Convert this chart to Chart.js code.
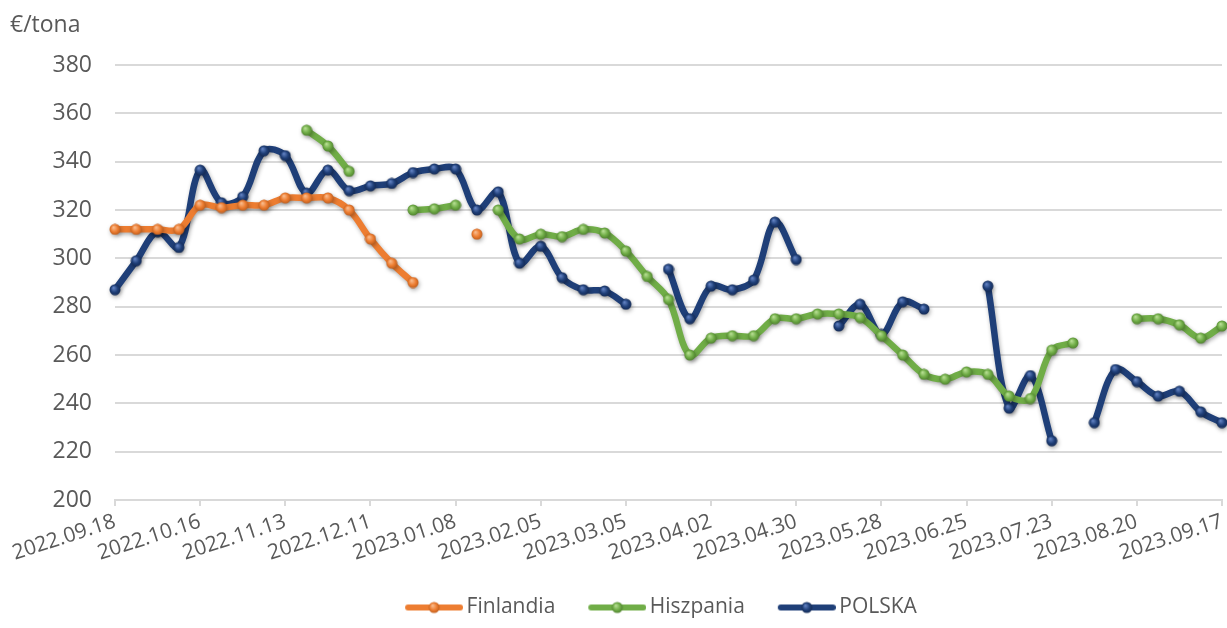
<!DOCTYPE html>
<html>
<head>
<meta charset="utf-8">
<script src="https://cdn.jsdelivr.net/npm/chart.js@4"></script>
<style>
  html, body { margin: 0; padding: 0; background: #ffffff; }
  #wrap { width: 1227px; height: 628px; position: relative; }
</style>
</head>
<body>
<div id="wrap"><canvas id="chart" width="1227" height="628"></canvas></div>
<script>
// weekly dates (categories)
const weeks = [
    '2022.09.18', '2022.09.25', '2022.10.02', '2022.10.09', '2022.10.16', '2022.10.23', '2022.10.30',
    '2022.11.06', '2022.11.13', '2022.11.20', '2022.11.27', '2022.12.04', '2022.12.11', '2022.12.18',
    '2022.12.25', '2023.01.01', '2023.01.08', '2023.01.15', '2023.01.22', '2023.01.29', '2023.02.05',
    '2023.02.12', '2023.02.19', '2023.02.26', '2023.03.05', '2023.03.12', '2023.03.19', '2023.03.26',
    '2023.04.02', '2023.04.09', '2023.04.16', '2023.04.23', '2023.04.30', '2023.05.07', '2023.05.14',
    '2023.05.21', '2023.05.28', '2023.06.04', '2023.06.11', '2023.06.18', '2023.06.25', '2023.07.02',
    '2023.07.09', '2023.07.16', '2023.07.23', '2023.07.30', '2023.08.06', '2023.08.13', '2023.08.20',
    '2023.08.27', '2023.09.03', '2023.09.10', '2023.09.17'
];

// €/tona, null = no quote that week
const finlandia = [
    312, 312, 312, 312, 322, 321, 322, 322, 325, 325, 325, 320, 308, 298, 290, null, null, 310,
    null, null, null, null, null, null, null, null, null, null, null, null, null, null, null, null, null,
    null, null, null, null, null, null, null, null, null, null, null, null, null, null, null, null, null, null
];
const hiszpania = [
    null, null, null, null, null, null, null, null, null, 353, 346.5, 336, null, null, 320, 320.5, 322, null,
    320, 308, 310, 309, 312, 310.5, 303, 292.5, 283, 260, 267, 268, 268, 275, 275, 277, 277,
    275.5, 268, 260, 252, 250, 253, 252, 243, 242, 262, 265, null, null, 275, 275, 272.5, 267, 272
];
const polska = [
    287, 299, 311, 304.5, 336.5, 323, 325.5, 344.5, 342.5, 327, 336.5, 328, 330, 331, 335.5, 337, 337, 320,
    327.5, 298, 305, 292, 287, 286.5, 281, null, 295.5, 275, 288.5, 287, 291, 315, 299.5, null, 272,
    281, 268.5, 282, 279, null, null, 288.5, 238, 251.5, 224.5, null, 232, 254, 249, 243, 245, 236.5, 232
];

const seriesNames = ['Finlandia', 'Hiszpania', 'POLSKA'];
const seriesColors = ['#ed7d31', '#70ad47', '#1f3f78'];
const sphereLight = ['#f8b98a', '#b3dc8f', '#5f7fbf'];
const sphereDark = ['#b85a1c', '#4c7d2c', '#132850'];

const textColor = '#595959';
const fontFamily = '"Open Sans", sans-serif';

// small shaded ball like the Excel markers
function sphere(i) {
    const c = document.createElement('canvas');
    c.width = 12; c.height = 12;
    const g = c.getContext('2d');
    const grad = g.createRadialGradient(4.5, 4, 0.5, 6, 6, 6);
    grad.addColorStop(0, sphereLight[i]);
    grad.addColorStop(0.55, seriesColors[i]);
    grad.addColorStop(1, sphereDark[i]);
    g.fillStyle = grad;
    g.beginPath();
    g.arc(6, 6, 5.5, 0, Math.PI * 2);
    g.fill();
    return c;
}

// legend icon: thick line + ball, placed at right part of a wider canvas
const legendBox = 75, legendCanvasW = 89, legendLineW = 58;
function legendIcon(i) {
    const c = document.createElement('canvas');
    c.width = legendCanvasW; c.height = 14;
    const g = c.getContext('2d');
    const x0 = legendCanvasW - legendLineW;
    g.strokeStyle = seriesColors[i];
    g.lineWidth = 6;
    g.lineCap = 'round';
    g.beginPath();
    g.moveTo(x0 + 3, 7);
    g.lineTo(legendCanvasW - 3, 7);
    g.stroke();
    g.drawImage(sphere(i), x0 + legendLineW / 2 - 6, 1);
    return c;
}

const markers = seriesNames.map((n, i) => sphere(i));
const legendIcons = seriesNames.map((n, i) => legendIcon(i));

const shadowPlugin = {
    id: 'shadow',
    beforeDatasetDraw(chart) {
        const c = chart.ctx;
        c.save();
        c.shadowColor = 'rgba(0,0,0,0.32)';
        c.shadowBlur = 4;
        c.shadowOffsetX = 1;
        c.shadowOffsetY = 2;
    },
    afterDatasetDraw(chart) {
        chart.ctx.restore();
    }
};

// unit label top-left + nudge legend so it is centred under the plot area
const extras = {
    id: 'extras',
    afterUpdate(chart) {
        const lg = chart.legend;
        if (lg) {
            lg.left += 38;
            lg.right += 38;
        }
    },
    afterDraw(chart) {
        const c = chart.ctx;
        c.save();
        c.font = '23px ' + fontFamily;
        c.fillStyle = textColor;
        c.textBaseline = 'alphabetic';
        c.fillText('€/tona', 10, 32);
        c.restore();
    }
};

function makeDataset(name, values, i) {
    return {
        label: name,
        data: values,
        borderColor: seriesColors[i],
        backgroundColor: seriesColors[i],
        borderWidth: 6.5,
        tension: 0.35,
        spanGaps: false,
        pointStyle: markers[i],
        pointRadius: 5,
        pointHoverRadius: 5,
        clip: false
    };
}

new Chart(document.getElementById('chart'), {
    type: 'line',
    data: {
        labels: weeks,
        datasets: [
            makeDataset(seriesNames[0], finlandia, 0),
            makeDataset(seriesNames[1], hiszpania, 1),
            makeDataset(seriesNames[2], polska, 2)
        ]
    },
    options: {
        responsive: false,
        animation: false,
        events: [],
        layout: { autoPadding: false, padding: { left: 0, right: 5, top: 65, bottom: 0 } },
        plugins: {
            tooltip: { enabled: false },
            legend: {
                position: 'bottom',
                labels: {
                    usePointStyle: true,
                    pointStyleWidth: legendBox,
                    padding: 9,
                    color: textColor,
                    font: { family: fontFamily, size: 21 },
                    generateLabels: chart => chart.data.datasets.map((ds, i) => ({
                        text: ds.label,
                        pointStyle: legendIcons[i],
                        fontColor: textColor,
                        fillStyle: 'transparent',
                        strokeStyle: 'transparent',
                        lineWidth: 0,
                        hidden: false,
                        datasetIndex: i
                    }))
                }
            }
        },
        scales: {
            x: {
                offset: false,
                afterFit: s => {
                    s.height = 88;
                    s.paddingLeft = 0;
                    s.paddingRight = 0;
                },
                grid: {
                    drawOnChartArea: false,
                    color: '#d9d9d9',
                    lineWidth: 2,
                    tickLength: 6
                },
                border: { display: true, color: '#d9d9d9', width: 2 },
                ticks: {
                    autoSkip: false,
                    minRotation: 18,
                    maxRotation: 18,
                    color: textColor,
                    font: { family: fontFamily, size: 21 },
                    callback: function (v, i) { return i % 4 === 0 ? weeks[i] : null; }
                }
            },
            y: {
                min: 200,
                max: 380,
                afterFit: s => { s.width = 115; },
                grid: { color: '#d9d9d9', lineWidth: 2, drawTicks: false },
                border: { display: false },
                ticks: {
                    stepSize: 20,
                    padding: 23,
                    color: textColor,
                    font: { family: fontFamily, size: 23 }
                }
            }
        }
    },
    plugins: [shadowPlugin, extras]
});
</script>
</body>
</html>
